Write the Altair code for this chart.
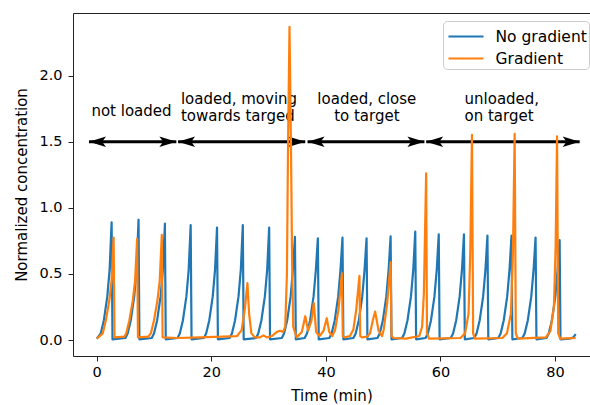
import altair as alt
import pandas as pd

# ---------------- data ----------------
blue_t = [0, 0.7, 1.25, 1.85, 2.25, 2.6, 2.75,
          5.0, 5.4, 5.95, 6.55, 6.95, 7.3, 7.45,
          9.6, 10.0, 10.55, 11.15, 11.55, 11.9, 12.05,
          14.1, 14.5, 15.05, 15.65, 16.05, 16.4, 16.55,
          18.7, 19.1, 19.65, 20.25, 20.65, 21.0, 21.15,
          23.2, 23.6, 24.15, 24.75, 25.15, 25.5, 25.65,
          27.8, 28.2, 28.75, 29.35, 29.75, 30.1, 30.25,
          32.3, 32.7, 33.25, 33.85, 34.25, 34.6, 34.75,
          36.3, 36.7, 37.25, 37.85, 38.25, 38.6, 38.75,
          40.6, 41.0, 41.55, 42.15, 42.55, 42.9, 43.05,
          44.8, 45.2, 45.75, 46.35, 46.75, 47.1, 47.25,
          49.0, 49.4, 49.95, 50.55, 50.95, 51.3, 51.45,
          53.3, 53.7, 54.25, 54.85, 55.25, 55.6, 55.75,
          57.4, 57.8, 58.35, 58.95, 59.35, 59.7, 59.85,
          61.8, 62.2, 62.75, 63.35, 63.75, 64.1, 64.25,
          65.9, 66.3, 66.85, 67.45, 67.85, 68.2, 68.35,
          70.1, 70.5, 71.05, 71.65, 72.05, 72.4, 72.55,
          74.3, 74.7, 75.25, 75.85, 76.25, 76.6, 76.75,
          78.5, 78.9, 79.45, 80.05, 80.45, 80.8, 80.95,
          82.5, 83.2, 83.6]
blue_v = [0.01, 0.05, 0.15, 0.33, 0.53, 0.89, 0.005,
          0.015, 0.05, 0.15, 0.33, 0.53, 0.91, 0.005,
          0.015, 0.05, 0.15, 0.33, 0.53, 0.88, 0.005,
          0.015, 0.05, 0.15, 0.33, 0.53, 0.87, 0.005,
          0.015, 0.05, 0.15, 0.33, 0.53, 0.85, 0.005,
          0.015, 0.05, 0.15, 0.33, 0.53, 0.87, 0.005,
          0.015, 0.05, 0.15, 0.33, 0.53, 0.85, 0.005,
          0.015, 0.05, 0.15, 0.33, 0.53, 0.78, 0.005,
          0.015, 0.05, 0.15, 0.33, 0.53, 0.77, 0.005,
          0.015, 0.05, 0.15, 0.33, 0.53, 0.775, 0.005,
          0.015, 0.05, 0.15, 0.33, 0.53, 0.77, 0.005,
          0.015, 0.05, 0.15, 0.33, 0.53, 0.785, 0.005,
          0.015, 0.05, 0.15, 0.33, 0.53, 0.82, 0.005,
          0.015, 0.05, 0.15, 0.33, 0.53, 0.80, 0.005,
          0.015, 0.05, 0.15, 0.33, 0.53, 0.80, 0.005,
          0.015, 0.05, 0.15, 0.33, 0.53, 0.79, 0.005,
          0.015, 0.05, 0.15, 0.33, 0.53, 0.79, 0.005,
          0.015, 0.05, 0.15, 0.33, 0.53, 0.775, 0.005,
          0.015, 0.05, 0.15, 0.33, 0.53, 0.755, 0.005,
          0.01, 0.02, 0.045]

orange_t = [0, 1.05, 1.6, 2.2, 2.6, 2.95, 3.1,
            4.8, 5.15, 5.7, 6.3, 6.7, 7.05, 7.2,
            9.0, 9.45, 10.0, 10.6, 11.0, 11.36, 11.5,
            14.0, 18.0, 22.0, 24.5, 25.3, 25.9, 26.3, 26.6, 27.0, 27.6,
            28.5, 29.1, 29.7, 30.6, 31.4, 32.0, 32.5, 32.9, 33.2, 33.4, 33.65, 33.9, 34.1, 34.3, 34.9,
            35.8, 36.4, 36.9, 37.5, 37.9, 38.3, 38.9, 39.6, 40.15, 40.6, 41.1,
            41.6, 42.2, 42.8, 42.95, 43.3,
            44.2, 44.8, 45.3, 45.86, 46.0, 46.3,
            47.2, 47.7, 48.2, 48.6, 49.2, 49.8,
            50.1, 50.7, 51.3, 51.45, 51.8,
            54.0, 56.3, 56.8, 57.1, 57.3, 57.5, 57.65, 58.0,
            63.5, 64.3, 64.9, 65.2, 65.5, 65.7, 66.0,
            70.8, 71.6, 72.3, 72.65, 72.95, 73.15, 73.5,
            78.4, 79.2, 79.8, 80.1, 80.35, 80.55, 80.9,
            83.6]
orange_v = [0.01, 0.05, 0.15, 0.3, 0.45, 0.775, 0.02,
            0.025, 0.05, 0.15, 0.3, 0.45, 0.765, 0.02,
            0.025, 0.05, 0.15, 0.3, 0.45, 0.795, 0.02,
            0.015, 0.02, 0.025, 0.03, 0.075, 0.25, 0.43, 0.2, 0.05, 0.02,
            0.02, 0.035, 0.02, 0.03, 0.06, 0.07, 0.06, 0.1, 0.5, 1.5, 2.37, 1.5, 0.6, 0.1, 0.02,
            0.06, 0.18, 0.07, 0.15, 0.28, 0.06, 0.03, 0.07, 0.165, 0.06, 0.03,
            0.075, 0.23, 0.505, 0.03, 0.02,
            0.03, 0.08, 0.23, 0.485, 0.03, 0.02,
            0.025, 0.05, 0.15, 0.215, 0.07, 0.03,
            0.08, 0.28, 0.59, 0.03, 0.015,
            0.01, 0.03, 0.1, 0.35, 0.8, 1.26, 0.05, 0.01,
            0.015, 0.05, 0.2, 0.66, 1.553, 0.05, 0.01,
            0.015, 0.05, 0.2, 0.66, 1.56, 0.05, 0.01,
            0.02, 0.07, 0.25, 0.7, 1.54, 0.05, 0.01,
            0.015]

series_names = ["No gradient", "Gradient"]
series_colors = ["#1f77b4", "#ff7f0e"]

arrow_start = [-1.35, 14.2, 36.8, 57.5]
arrow_end = [13.9, 36.4, 57.2, 84.3]
arrow_level = [1.5, 1.5, 1.5, 1.5]

label_text = ["not loaded", "loaded, moving", "towards targed",
              "loaded, close", "to target", "unloaded,", "on target"]
label_t = [6.07, 14.69, 14.69, 47.15, 47.15, 64.2, 64.2]
label_v = [1.735, 1.824, 1.692, 1.824, 1.692, 1.824, 1.692]
label_align = ["center", "left", "left", "center", "center", "left", "left"]

x_ticks = [0, 20, 40, 60, 80]
y_ticks = [0.0, 0.5, 1.0, 1.5, 2.0]

# ---------------- tables ----------------
lines = pd.DataFrame({
    "t": blue_t + orange_t,
    "v": blue_v + orange_v,
    "series": [series_names[0]] * len(blue_t) + [series_names[1]] * len(orange_t),
})
arrows = pd.DataFrame({"x0": arrow_start, "x1": arrow_end, "y": arrow_level})
labels = pd.DataFrame({"t": label_t, "v": label_v, "text": label_text, "align": label_align})

FONT = "DejaVu Sans"
xs = alt.Scale(domain=[-4.14, 86.1], nice=False, zero=False)
ys = alt.Scale(domain=[-0.121, 2.474], nice=False, zero=False)

legend = alt.Legend(
    title=None, orient="none", legendX=370, legendY=8,
    symbolType="M-1.46,0H1.46", symbolSize=576, symbolStrokeWidth=2.2,
    symbolOffset=7.5, labelOffset=16, labelFontSize=15.5, labelFont=FONT,
    labelColor="#000", padding=2, rowPadding=0,
    fillColor="rgba(255,255,255,0.8)", strokeColor="#cccccc", cornerRadius=4,
)
color = alt.Color("series:N", scale=alt.Scale(domain=series_names, range=series_colors),
                  legend=legend)

x_axis = alt.Axis(values=x_ticks, format="d", grid=False, title="Time (min)",
                  labelFont=FONT, labelFontSize=14.5, labelColor="#000",
                  titleFont=FONT, titleFontSize=15, titleFontWeight="normal", titleColor="#000",
                  tickSize=5, tickColor="#222", domainColor="#222", domainWidth=1,
                  labelPadding=4, titlePadding=10)
y_axis = alt.Axis(values=y_ticks, format=".1f", grid=False, title="Normalized concentration",
                  labelFont=FONT, labelFontSize=14.5, labelColor="#000",
                  titleFont=FONT, titleFontSize=15, titleFontWeight="normal", titleColor="#000",
                  tickSize=5, tickColor="#222", domainColor="#222", domainWidth=1,
                  labelPadding=6, titlePadding=9)
top_axis = alt.Axis(orient="top", labels=False, ticks=False, grid=False, title="",
                    domainColor="#222", domainWidth=1)

RIGHT_HEAD = "M0,0L-2,-0.62L-1.55,0L-2,0.62Z"
LEFT_HEAD = "M0,0L2,-0.62L1.55,0L2,0.62Z"

shaft = alt.Chart(arrows).mark_rule(color="black", strokeWidth=3).encode(
    x=alt.X("x0:Q", scale=xs, axis=top_axis),
    x2="x1:Q",
    y=alt.Y("y:Q", scale=ys, axis=None),
)
head_r = alt.Chart(arrows).mark_point(shape=RIGHT_HEAD, filled=True, color="black",
                                      opacity=1, size=289, strokeWidth=0).encode(
    x=alt.X("x1:Q", scale=xs, axis=None),
    y=alt.Y("y:Q", scale=ys, axis=None),
)
head_l = alt.Chart(arrows).mark_point(shape=LEFT_HEAD, filled=True, color="black",
                                      opacity=1, size=289, strokeWidth=0).encode(
    x=alt.X("x0:Q", scale=xs, axis=None),
    y=alt.Y("y:Q", scale=ys, axis=None),
)

text_left = alt.Chart(labels).transform_filter(alt.datum.align == "left").mark_text(
    align="left", baseline="middle", font=FONT, fontSize=15, color="black").encode(
    x=alt.X("t:Q", scale=xs, axis=None),
    y=alt.Y("v:Q", scale=ys, axis=None),
    text="text:N",
)
text_center = alt.Chart(labels).transform_filter(alt.datum.align == "center").mark_text(
    align="center", baseline="middle", font=FONT, fontSize=15, color="black").encode(
    x=alt.X("t:Q", scale=xs, axis=None),
    y=alt.Y("v:Q", scale=ys, axis=None),
    text="text:N",
)

blue_line = alt.Chart(lines).transform_filter(alt.datum.series == series_names[0]).mark_line(
    strokeWidth=2.2, strokeJoin="round").encode(
    x=alt.X("t:Q", scale=xs, axis=x_axis),
    y=alt.Y("v:Q", scale=ys, axis=y_axis),
    color=color,
)
orange_line = alt.Chart(lines).transform_filter(alt.datum.series == series_names[1]).mark_line(
    strokeWidth=2.2, strokeJoin="round").encode(
    x=alt.X("t:Q", scale=xs, axis=None),
    y=alt.Y("v:Q", scale=ys, axis=None),
    color=color,
)

chart = alt.layer(shaft, head_l, head_r, text_left, text_center, blue_line, orange_line).resolve_axis(
    x="independent", y="independent"
).properties(
    width=517, height=343,
    padding={"left": 73, "top": 13, "right": 0, "bottom": 49},
    autosize=alt.AutoSizeParams(type="none"),
    background="white",
).configure_view(stroke=None).configure(font=FONT)

chart.save("out.html", embed_options={"renderer": "svg", "actions": False})
